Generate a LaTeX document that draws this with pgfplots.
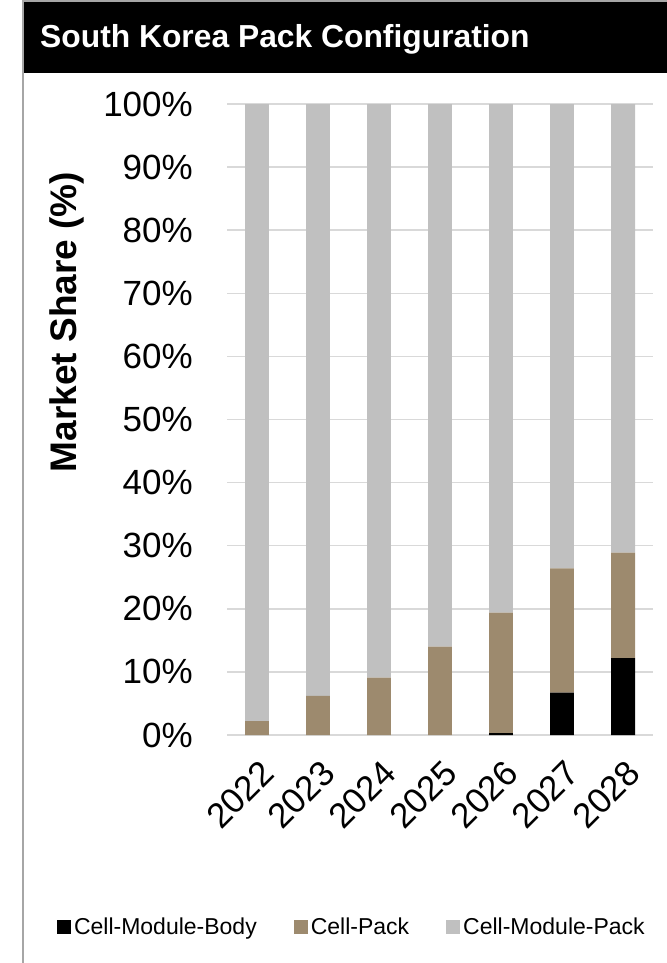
\documentclass[border=0pt]{standalone}
\usepackage{fontspec}
\setmainfont{Liberation Sans}
\usepackage{pgfplots}
\pgfplotsset{compat=1.18}
\definecolor{cpack}{HTML}{9D8A6E}
\definecolor{cmpack}{HTML}{C0C0C0}
\definecolor{gridc}{HTML}{D9D9D9}
\definecolor{framec}{HTML}{A6A6A6}

\pgfplotsset{
  sqlegend/.style={legend image code/.code={\fill[##1,draw=none] (0bp,-7bp) rectangle (14bp,7bp);}},
}

\begin{document}
\begin{tikzpicture}
\useasboundingbox (0,0) rectangle (667bp,-963bp);
% title bar and frame
\fill[black] (23bp,-1bp) rectangle (667bp,-73bp);
\draw[framec, line width=1.5bp] (23bp,-963bp) -- (23bp,-0.75bp) -- (667bp,-0.75bp);
\node[anchor=base west, inner sep=0, text=white, font=\fontsize{31.8bp}{36bp}\selectfont\bfseries]
  at (40bp,-47bp) {South Korea Pack Configuration};
\node[rotate=90, anchor=base, inner sep=0, font=\fontsize{37bp}{42bp}\selectfont\bfseries]
  at (76bp,-322bp) {Market Share (\%)};
\begin{axis}[
  at={(227bp,-735bp)}, anchor=south west,
  scale only axis, width=426bp, height=631bp,
  ybar stacked, bar width=0.39,
  xmin=-0.49, xmax=6.49, ymin=0, ymax=100,
  axis line style={draw=none},
  tick style={draw=none}, major tick length=0pt,
  ymajorgrids, grid style={gridc, line width=1.5bp},
  xtick={0,...,6},
  xticklabels={2022,2023,2024,2025,2026,2027,2028},
  ytick={0,10,...,100},
  yticklabels={0\%,10\%,20\%,30\%,40\%,50\%,60\%,70\%,80\%,90\%,100\%},
  tick label style={font=\fontsize{35bp}{40bp}\selectfont, inner sep=0pt},
  yticklabel style={anchor=east, xshift=-34bp},
  xticklabel style={xshift=2bp, yshift=-23bp, rotate=45, anchor=north east},
  legend style={at={(-0.399,-0.3035)}, anchor=west, draw=none, fill=none,
    inner sep=0pt, outer sep=0pt, legend columns=-1,
    font=\fontsize{23bp}{26bp}\selectfont,
    nodes={inner sep=0pt},
    /tikz/every odd column/.append style={column sep=3bp},
    /tikz/every even column/.append style={column sep=37bp}},
]
\addplot[fill=black, draw=none, sqlegend] coordinates
  {(0,0) (1,0) (2,0) (3,0) (4,0.3) (5,6.7) (6,12.2)};
\addplot[fill=cpack, draw=none, sqlegend] coordinates
  {(0,2.2) (1,6.2) (2,9.1) (3,14.0) (4,19.1) (5,19.7) (6,16.7)};
\addplot[fill=cmpack, draw=none, sqlegend] coordinates
  {(0,97.8) (1,93.8) (2,90.9) (3,86.0) (4,80.6) (5,73.6) (6,71.1)};
\legend{Cell-Module-Body, Cell-Pack, Cell-Module-Pack}
\end{axis}
\end{tikzpicture}
\end{document}
